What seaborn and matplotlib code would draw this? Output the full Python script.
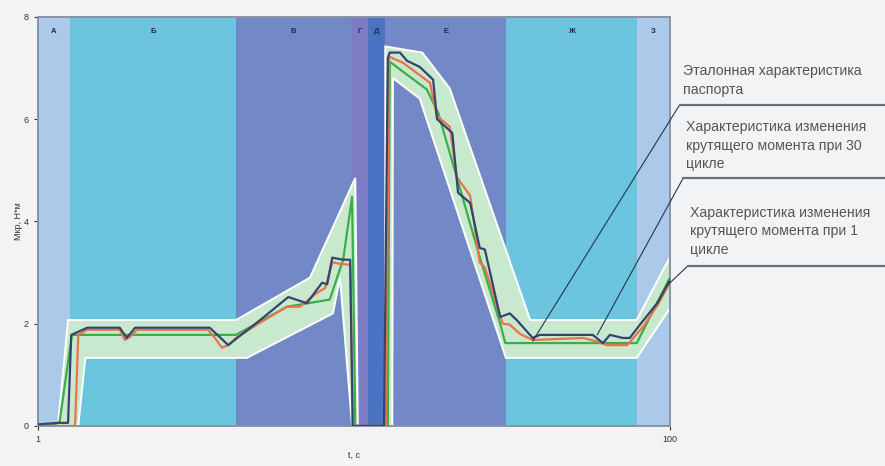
import numpy as np
import pandas as pd
import seaborn as sns
import matplotlib.pyplot as plt
from matplotlib.lines import Line2D

sns.set_theme(style="white")
plt.rcParams["font.family"] = ["Liberation Sans", "DejaVu Sans"]

## Stage zones along the time axis
zone_labels = ["А", "Б", "В", "Г", "Д", "Е", "Ж", "З"]
zone_edges = [1, 6.0, 32.0, 50.0, 52.7, 55.4, 74.3, 94.8, 100]
zone_colors = ["#abc9e8", "#6cc5de", "#7388c6", "#7c7cc4", "#4b73c3",
               "#7388c6", "#6cc5de", "#abc9e8"]

## Reference (passport) characteristic
ref_t = [1, 4.1, 4.4, 6.3, 32.0, 40.0, 46.7, 48.8, 50.2, 50.7, 55.8, 56.1,
         61.9, 63.7, 70.2, 73.4, 74.2, 94.8, 100]
ref_m = [0.0, 0.05, 0.1, 1.78, 1.78, 2.33, 2.47, 3.25, 4.48, 0.0, 0.0, 7.12,
         6.58, 6.12, 3.3, 2.0, 1.62, 1.62, 2.9]

## Torque at cycle 30
c30_t = [1, 6.8, 7.3, 8.7, 13.8, 14.6, 15.4, 16.5, 27.6, 28.7, 29.8, 30.8,
         32.0, 35.8, 40.0, 42.0, 44.7, 46.0, 47.1, 48.3, 49.9, 50.3, 55.5,
         56.0, 58.2, 62.4, 63.5, 65.5, 66.6, 68.7, 70.2, 71.0, 73.8, 74.9,
         76.5, 78.5, 86.4, 88.6, 90.1, 93.3, 95.8, 98.0, 100]
c30_m = [0.0, 0.0, 1.78, 1.88, 1.88, 1.68, 1.74, 1.88, 1.88, 1.72, 1.53, 1.58,
         1.72, 2.02, 2.33, 2.33, 2.6, 2.7, 3.2, 3.17, 3.15, 0.0, 0.0,
         7.22, 7.1, 6.71, 6.06, 5.85, 4.87, 4.5, 3.2, 3.1, 2.0, 1.98,
         1.8, 1.68, 1.72, 1.65, 1.58, 1.58, 1.94, 2.35, 2.8]

## Torque at cycle 1
c1_t = [1, 4.1, 5.5, 5.7, 6.2, 8.7, 13.8, 14.9, 16.2, 27.9, 30.8, 32.2, 35.8,
        40.2, 43.1, 45.5, 46.3, 47.1, 48.8, 49.9, 50.3, 55.2, 55.8, 56.1,
        57.7, 58.8, 60.8, 62.9, 63.5, 65.9, 66.8, 68.7, 70.2, 71.0, 73.4,
        74.9, 76.0, 78.5, 79.6, 87.9, 89.5, 90.6, 92.6, 93.7, 95.3, 98.0, 100]
c1_m = [0.03, 0.06, 0.06, 0.06, 1.78, 1.92, 1.92, 1.72, 1.92, 1.92, 1.58, 1.72,
        2.07, 2.52, 2.4, 2.8, 2.77, 3.29, 3.25, 3.25, 0.0, 0.0, 7.2, 7.3,
        7.3, 7.14, 7.02, 6.77, 6.0, 5.73, 4.56, 4.36, 3.48, 3.45, 2.13,
        2.2, 2.07, 1.72, 1.78, 1.78, 1.62, 1.78, 1.72, 1.72, 1.98, 2.4, 2.85]

## Tolerance band (two pieces)
band1_up_t = [4.1, 5.7, 32.0, 43.6, 50.7, 51.1]
band1_up_m = [0.0, 2.07, 2.07, 2.9, 4.85, 0.0]
band1_lo_t = [7.3, 8.4, 33.7, 47.2, 48.3, 50.2]
band1_lo_m = [0.0, 1.33, 1.33, 2.2, 2.9, 0.0]
band2_up_t = [55.4, 55.4, 61.2, 65.5, 78.1, 94.8, 100]
band2_up_m = [0.0, 7.42, 7.3, 6.6, 2.07, 2.07, 3.3]
band2_lo_t = [56.5, 56.6, 60.8, 74.3, 94.8, 100]
band2_lo_m = [0.0, 6.8, 6.4, 1.33, 1.33, 2.3]

## Callouts: text, point on chart
callout_texts = ["Эталонная характеристика\nпаспорта",
                 "Характеристика изменения\nкрутящего момента при 30\nцикле",
                 "Характеристика изменения\nкрутящего момента при 1\nцикле"]
callout_t = [78.5, 88.6, 99.6]
callout_m = [1.66, 1.78, 2.75]

fig = plt.figure(figsize=(8.85, 4.66), dpi=100, facecolor="#f2f3f5")
ax = fig.add_axes([0.043, 0.086, 0.714, 0.878])

for lab, x0, x1, col in zip(zone_labels, zone_edges[:-1], zone_edges[1:], zone_colors):
    ax.axvspan(x0, x1, color=col, lw=0, zorder=0)
    ax.text((x0 + x1) / 2, 7.72, lab, ha="center", va="center",
            fontsize=5.5, fontweight="bold", color="#1c2a48")

band_color = "#c9e9cf"
for ut, um, lt, lm in [(band1_up_t, band1_up_m, band1_lo_t, band1_lo_m),
                       (band2_up_t, band2_up_m, band2_lo_t, band2_lo_m)]:
    px = np.concatenate([ut, lt[::-1]])
    py = np.concatenate([um, lm[::-1]])
    ax.fill(px, py, facecolor=band_color, edgecolor="white", lw=1.4, zorder=1)

series = [
    (ref_t, ref_m, "#3aae48"),
    (c30_t, c30_m, "#e8734c"),
    (c1_t, c1_m, "#34446e"),
]
for t, m, col in series:
    d = pd.DataFrame({"t": t, "m": m})
    sns.lineplot(data=d, x="t", y="m", estimator=None, sort=False,
                 color=col, lw=1.6, ax=ax, zorder=3)

ax.set_xlim(1, 100)
ax.set_ylim(0, 8)
ax.set_xticks([1, 100])
ax.set_yticks([0, 2, 4, 6, 8])
ax.tick_params(labelsize=6.5, colors="#333333", length=3, width=0.8,
               left=True, bottom=True)
ax.set_xlabel("t, с", fontsize=6.5, color="#333333", labelpad=5)
ax.set_ylabel("Мкр, Н*м", fontsize=6.5, color="#333333", labelpad=1)
for s in ax.spines.values():
    s.set_color("#8893a6")
    s.set_linewidth(1.4)

# callouts to the right of the plot
text_pos = [(0.772, 0.862), (0.775, 0.742), (0.780, 0.559)]
line_pos = [(0.768, 0.775), (0.772, 0.618), (0.777, 0.429)]
for txt, (tx, ty), (lx, ly), t, m in zip(callout_texts, text_pos, line_pos,
                                         callout_t, callout_m):
    fig.text(tx, ty, txt, ha="left", va="top", fontsize=10.2,
             color="#555555", linespacing=1.42)
    fig.add_artist(Line2D([lx, 1.0], [ly, ly], transform=fig.transFigure,
                          color="#6a7078", lw=1.6))
    ax.annotate("", xy=(t, m), xycoords="data", xytext=(lx, ly),
                textcoords="figure fraction", annotation_clip=False,
                arrowprops=dict(arrowstyle="-", color="#26334f", lw=0.8,
                                shrinkA=0, shrinkB=0), zorder=5)

fig.savefig("out.png", dpi=100, facecolor=fig.get_facecolor())
